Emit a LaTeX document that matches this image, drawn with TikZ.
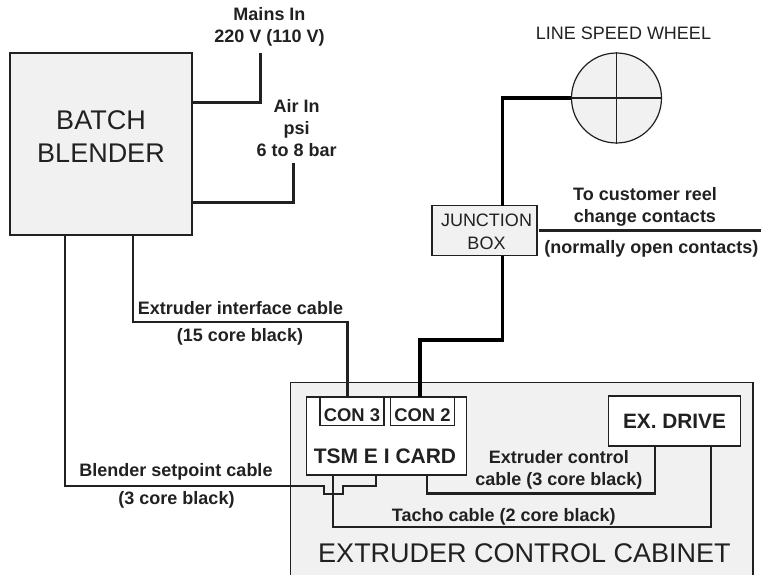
\documentclass[tikz,border=0pt]{standalone}
\usepackage{fontspec}
\setmainfont{Liberation Sans}
\definecolor{panel}{gray}{0.945}
\definecolor{ink}{gray}{0.13}
\tikzset{
    unitbox/.style={draw=ink, line width=1.2pt, inner sep=0pt, align=center, text=ink},
    conbox/.style={unitbox, fill=white, minimum width=64pt, minimum height=27.5pt, text height=19pt, text depth=0pt, font=\fontsize{18.4}{20}\selectfont\bfseries},
    cable/.style={draw=ink, line width=2.8pt},
    thincable/.style={draw=ink, line width=2.5pt},
    sensorcable/.style={draw=black, line width=3.4pt},
    tag/.style={inner sep=0pt, align=center, text=ink, font=\fontsize{18}{22}\selectfont\bfseries},
    bigtag/.style={inner sep=0pt, align=center, text=ink, font=\fontsize{27}{33}\selectfont},
}
\begin{document}
\begin{tikzpicture}[x=1pt, y=-1pt]
    \useasboundingbox (0,0) rectangle (761,575);

    % cabinet runs off the bottom of the page
    \path[fill=panel, draw=ink, line width=1.2pt] (290.5,576) -- (290.5,382.5) -- (753,382.5) -- (753,576);
    \node[bigtag] (cabinet) at (524.5,553.5) {EXTRUDER CONTROL CABINET};

    \node[unitbox, fill=panel, minimum width=182pt, minimum height=182pt] (blender) at (101,144) {};
    \node[bigtag] (blendername) at (101,137) {BATCH\\BLENDER};
    \node[unitbox, fill=panel, minimum width=105pt, minimum height=49.5pt] (junction) at (484.5,230.5) {};
    \node[inner sep=0pt, align=center, text=ink, font=\fontsize{18}{22.7}\selectfont] (junctionname) at (486.5,231.5) {JUNCTION\\BOX};
    \node[unitbox, fill=white, minimum width=160pt, minimum height=78pt] (card) at (386.5,436) {};
    \node[conbox] (con3) at (352,411.5) {CON 3};
    \node[conbox] (con2) at (422.5,411.5) {CON 2};
    \node[tag, font=\fontsize{21}{24}\selectfont\bfseries] (cardname) at (385,456) {TSM E I CARD};
    \node[unitbox, fill=white, minimum width=132.5pt, minimum height=50pt, font=\fontsize{20.8}{24}\selectfont\bfseries] (drive) at (674.5,421) {EX. DRIVE};

    % wheel
    \node[circle, draw=ink, fill=panel, line width=1.2pt, minimum size=90pt, inner sep=0pt] (wheel) at (616.5,98) {};
    \draw[draw=ink, line width=1.2pt] (wheel.north) -- (wheel.south);
    \draw[draw=ink, line width=1.2pt] (wheel.west) -- (wheel.east);
    \node[inner sep=0pt, text=ink, font=\fontsize{18}{20}\selectfont] (wheelname) at (623.5,33) {LINE SPEED WHEEL};

    \node[tag] (mains) at (269.5,27) {Mains In\\220 V (110 V)};
    \node[tag] (air) at (296.7,128) {Air In\\psi\\6 to 8 bar};
    \node[tag] (reel) at (645,207) {To customer reel\\change contacts};
    \node[tag] (contacts) at (651.3,249) {(normally open contacts)};
    \node[tag] (ifcable) at (240.5,308) {Extruder interface cable};
    \node[tag] (ifcore) at (240,337) {(15 core black)};
    \node[tag] (spcable) at (176,472) {Blender setpoint cable};
    \node[tag] (spcore) at (176.5,500) {(3 core black)};
    \node[tag] (ctlcable) at (558.8,470) {Extruder control\\cable (3 core black)};
    \node[tag] (tacho) at (503.8,516.5) {Tacho cable (2 core black)};

    \coordinate (mainsfrom) at (192,102.5);
    \coordinate (mainsend) at (260.5,53);
    \coordinate (airfrom) at (192,202.5);
    \coordinate (airend) at (293.5,163);
    \coordinate (reelfrom) at (539,230.5);
    \coordinate (reelend) at (761,230.5);
    \coordinate (jfrom) at (502.5,206);
    \coordinate (jto) at (502.5,255.5);
    \coordinate (ifout) at (133,235);
    \coordinate (ifin) at (347.5,397);
    \coordinate (spout) at (65,235);
    \coordinate (spin) at (376,475);
    \coordinate (ctlout) at (427,475);
    \coordinate (ctlin) at (655,446);
    \coordinate (tachoout) at (333,475);
    \coordinate (tachoin) at (711,446);
    \coordinate (con2in) at (420,397);

    \draw[cable] (mainsfrom) -| (mainsend);
    \draw[cable] (airfrom) -| (airend);
    \draw[thincable] (reelfrom) -- (reelend);
    \draw[sensorcable] (wheel.west) -| (jfrom);
    \draw[sensorcable] (jto) |- (420,340) -- (con2in);
    \draw[thincable] (ifout) |- (347.5,322) -- (ifin);
    \draw[thincable] (spout) |- (324,486) |- (343,494) |- (376,486) -- (spin);
    \draw[thincable] (ctlout) |- (655,493.5) -- (ctlin);
    \draw[thincable] (tachoout) |- (711,527) -- (tachoin);
\end{tikzpicture}
\end{document}
